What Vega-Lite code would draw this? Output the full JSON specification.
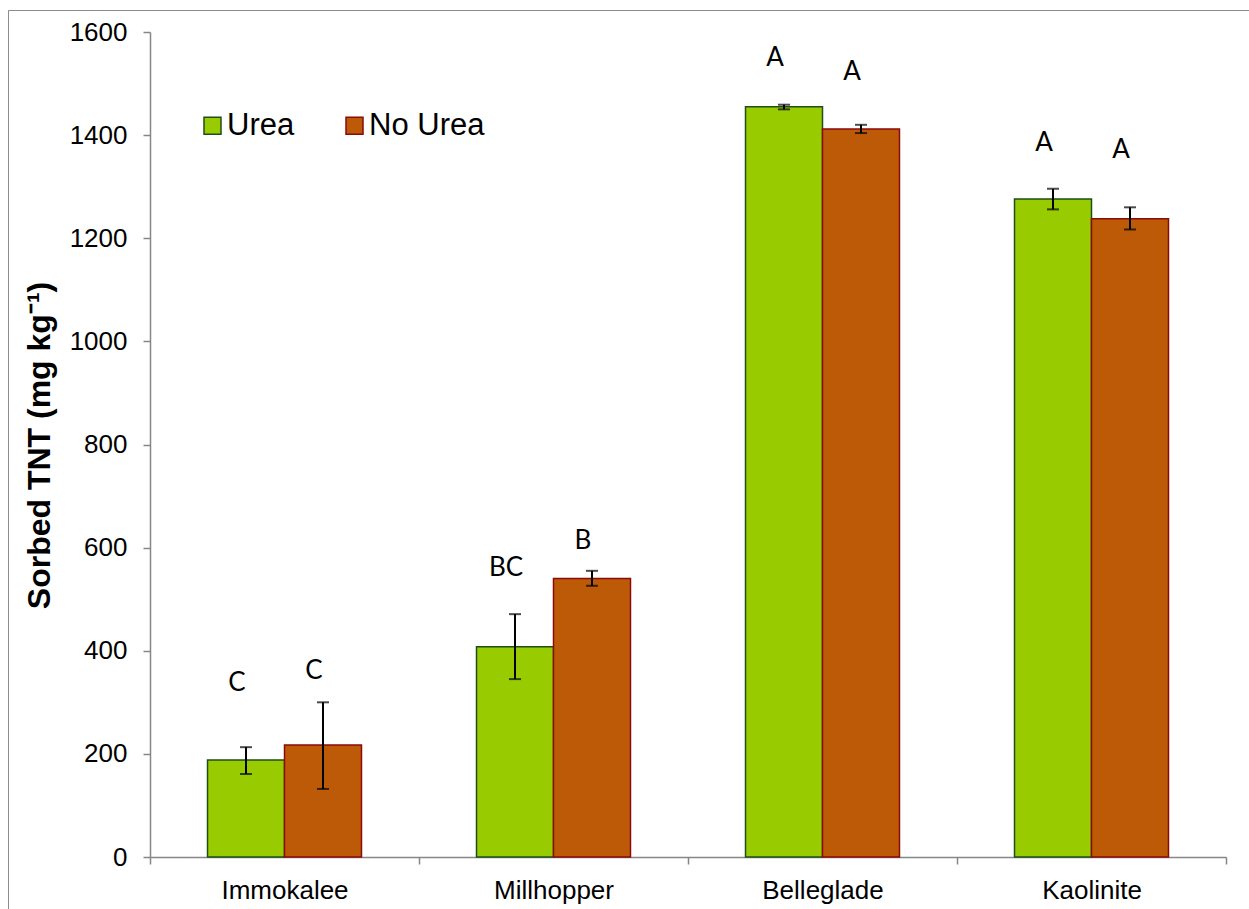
{
  "$schema": "https://vega.github.io/schema/vega-lite/v6.json",
  "autosize": "none",
  "width": 1241,
  "height": 899,
  "padding": {"left": 8, "top": 10, "right": 0, "bottom": 0},
  "background": "white",
  "config": {
    "view": {"stroke": "#8c8c8c", "strokeWidth": 1, "strokeDash": [1241, 2140, 899]},
    "font": "Liberation Sans",
    "legend": {
      "orient": "none",
      "legendX": 189,
      "legendY": 100,
      "direction": "horizontal",
      "title": null,
      "padding": 0,
      "symbolType": "square",
      "symbolSize": 289,
      "symbolStrokeWidth": 1.5,
      "labelFontSize": 31,
      "labelFont": "Liberation Sans",
      "labelColor": "black",
      "labelOffset": -1,
      "columnPadding": 44
    }
  },
  "data": {
    "values": [
      {"site": "Immokalee", "treatment": "Urea", "tnt": 188, "lo": 161, "hi": 213, "letter": "C", "letterPos": 337},
      {"site": "Immokalee", "treatment": "No Urea", "tnt": 217, "lo": 132, "hi": 300, "letter": "C", "letterPos": 361},
      {"site": "Millhopper", "treatment": "Urea", "tnt": 408, "lo": 345, "hi": 471, "letter": "BC", "letterPos": 560},
      {"site": "Millhopper", "treatment": "No Urea", "tnt": 540, "lo": 526, "hi": 555, "letter": "B", "letterPos": 613},
      {"site": "Belleglade", "treatment": "Urea", "tnt": 1455, "lo": 1450, "hi": 1459, "letter": "A", "letterPos": 1549},
      {"site": "Belleglade", "treatment": "No Urea", "tnt": 1412, "lo": 1404, "hi": 1420, "letter": "A", "letterPos": 1522},
      {"site": "Kaolinite", "treatment": "Urea", "tnt": 1276, "lo": 1256, "hi": 1296, "letter": "A", "letterPos": 1385},
      {"site": "Kaolinite", "treatment": "No Urea", "tnt": 1238, "lo": 1217, "hi": 1260, "letter": "A", "letterPos": 1372}
    ]
  },
  "encoding": {
    "x": {
      "field": "site",
      "type": "nominal",
      "sort": ["Immokalee", "Millhopper", "Belleglade", "Kaolinite"],
      "scale": {"paddingInner": 0, "paddingOuter": 0, "range": [142, 1218]},
      "axis": {
        "title": null,
        "offset": -52,
        "labelAngle": 0,
        "labelFontSize": 26,
        "labelFont": "Liberation Sans",
        "labelColor": "black",
        "labelPadding": 13,
        "tickBand": "extent",
        "tickSize": 7,
        "tickColor": "#868686",
        "tickWidth": 1.5,
        "domainColor": "#868686",
        "domainWidth": 1.5
      }
    },
    "xOffset": {
      "field": "treatment",
      "type": "nominal",
      "sort": ["Urea", "No Urea"],
      "scale": {"paddingInner": 0, "paddingOuter": 0.747}
    }
  },
  "layer": [
    {
      "mark": {"type": "bar", "strokeWidth": 1.5},
      "encoding": {
        "y": {
          "field": "tnt",
          "type": "quantitative",
          "scale": {"domain": [0, 1600], "nice": false, "range": [847, 22]},
          "axis": {
            "title": "Sorbed TNT (mg kg⁻¹)",
            "offset": -142,
            "format": "d",
            "titleFont": "Liberation Sans",
            "titleFontSize": 32,
            "titleFontWeight": "bold",
            "titleColor": "black",
            "titleBaseline": "alphabetic",
            "titleX": -101,
            "titleY": 435,
            "values": [0, 200, 400, 600, 800, 1000, 1200, 1400, 1600],
            "grid": false,
            "labelFontSize": 26,
            "labelFont": "Liberation Sans",
            "labelColor": "black",
            "labelPadding": 16,
            "tickSize": 7,
            "tickColor": "#868686",
            "tickWidth": 1.5,
            "domainColor": "#868686",
            "domainWidth": 1.5
          }
        },
        "color": {
          "field": "treatment",
          "type": "nominal",
          "sort": ["Urea", "No Urea"],
          "scale": {"domain": ["Urea", "No Urea"], "range": ["#99CC00", "#BC5A08"]}
        },
        "stroke": {
          "field": "treatment",
          "type": "nominal",
          "sort": ["Urea", "No Urea"],
          "scale": {"domain": ["Urea", "No Urea"], "range": ["#1E4F1A", "#8B0A0A"]}
        }
      }
    },
    {
      "mark": {"type": "rule", "color": "black", "strokeWidth": 2},
      "encoding": {
        "y": {"field": "lo", "type": "quantitative"},
        "y2": {"field": "hi"}
      }
    },
    {
      "mark": {"type": "tick", "color": "black", "thickness": 2, "size": 12, "orient": "horizontal"},
      "encoding": {
        "y": {"field": "lo", "type": "quantitative"}
      }
    },
    {
      "mark": {"type": "tick", "color": "black", "thickness": 2, "size": 12, "orient": "horizontal"},
      "encoding": {
        "y": {"field": "hi", "type": "quantitative"}
      }
    },
    {
      "mark": {"type": "text", "font": "Lato", "fontSize": 26, "color": "black", "baseline": "middle", "align": "center", "dx": -9},
      "encoding": {
        "y": {"field": "letterPos", "type": "quantitative"},
        "text": {"field": "letter"}
      }
    }
  ]
}
